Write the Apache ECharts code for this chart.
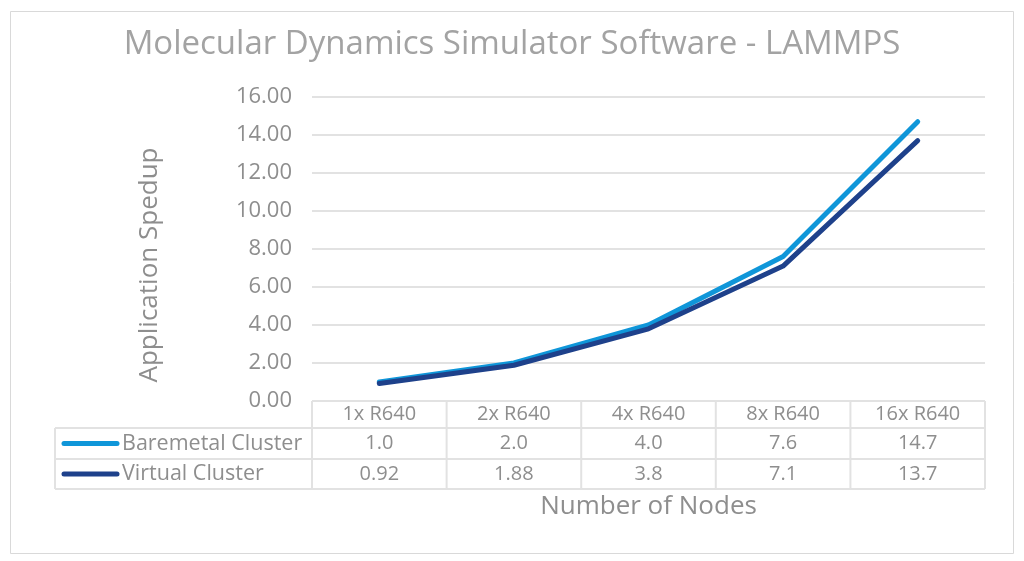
<!DOCTYPE html>
<html><head><meta charset="utf-8">
<script src="https://cdn.jsdelivr.net/npm/echarts@6/dist/echarts.min.js"></script>
<style>html,body{margin:0;padding:0;background:#fff}#c{width:1024px;height:561px}</style>
</head><body><div id="c"></div>
<script>
const categories = ['1x R640', '2x R640', '4x R640', '8x R640', '16x R640'];
const seriesNames = ['Baremetal Cluster', 'Virtual Cluster'];
const baremetal = [1.0, 2.0, 4.0, 7.6, 14.7];
const virtualCluster = [0.92, 1.88, 3.8, 7.1, 13.7];
const baremetalLabels = ['1.0', '2.0', '4.0', '7.6', '14.7'];
const virtualLabels = ['0.92', '1.88', '3.8', '7.1', '13.7'];
const seriesColors = ['#0f96d9', '#1e418b'];
const yMin = 0, yMax = 16, yInterval = 2;

const FONT = 'Open Sans';
const GRAY = '#8e8e8e';
const LINE = '#e2e2e2';

const chart = echarts.init(document.getElementById('c'), null, {renderer: 'canvas'});
chart.setOption({
  animation: false,
  backgroundColor: '#fff',
  textStyle: {fontFamily: FONT},
  title: {
    text: 'Molecular Dynamics Simulator Software - LAMMPS',
    left: 'center', top: 23,
    textStyle: {fontFamily: FONT, fontSize: 33, fontWeight: 'normal', color: '#a3a3a3'}
  },
  grid: {left: 312, right: 39, top: 97, bottom: 160, containLabel: false},
  xAxis: {
    type: 'category', data: categories, boundaryGap: true,
    axisLine: {show: false}, axisTick: {show: false}, axisLabel: {show: false}
  },
  yAxis: {
    type: 'value', min: yMin, max: yMax, interval: yInterval,
    axisLine: {show: false}, axisTick: {show: false},
    axisLabel: {formatter: v => v.toFixed(2), fontFamily: FONT, fontSize: 22, color: GRAY, margin: 20},
    splitLine: {lineStyle: {color: LINE, width: 2}}
  },
  series: [
    {name: seriesNames[1], type: 'line', data: virtualCluster, symbol: 'none',
     lineStyle: {color: seriesColors[1], width: 5, cap: 'round', join: 'round'}, z: 3},
    {name: seriesNames[0], type: 'line', data: baremetal, symbol: 'none',
     lineStyle: {color: seriesColors[0], width: 5, cap: 'round', join: 'round'}, z: 2}
  ]
});

function buildTable() {
  const g = [];
  const x0 = chart.convertToPixel({xAxisIndex: 0}, categories[0]);
  const x1 = chart.convertToPixel({xAxisIndex: 0}, categories[1]);
  const step = x1 - x0;
  const left = x0 - step / 2;
  const right = left + step * categories.length;
  const yTop = chart.convertToPixel({yAxisIndex: 0}, 0);
  const tableLeft = 55;
  const r1 = yTop + 27, r2 = yTop + 58, r3 = yTop + 88;
  const ls = {stroke: LINE, lineWidth: 2};
  g.push({type: 'line', shape: {x1: left, y1: yTop, x2: right, y2: yTop}, style: ls});
  [r1, r2, r3].forEach(y => g.push({type: 'line', shape: {x1: tableLeft, y1: y, x2: right, y2: y}, style: ls}));
  for (let i = 0; i <= categories.length; i++) {
    const x = left + step * i;
    g.push({type: 'line', shape: {x1: x, y1: yTop, x2: x, y2: r3}, style: ls});
  }
  g.push({type: 'line', shape: {x1: tableLeft, y1: r1, x2: tableLeft, y2: r3}, style: ls});
  const ts = (t, x, y, align, size) => ({type: 'text', x: x, y: y,
    style: {text: t, fill: GRAY, font: (size || 20) + 'px "' + FONT + '"', textAlign: align || 'center', textVerticalAlign: 'middle'}});
  categories.forEach((c, i) => {
    const cx = chart.convertToPixel({xAxisIndex: 0}, c);
    g.push(ts(c, cx, (yTop + r1) / 2));
    g.push(ts(baremetalLabels[i], cx, (r1 + r2) / 2));
    g.push(ts(virtualLabels[i], cx, (r2 + r3) / 2));
  });
  [[r1, r2], [r2, r3]].forEach((rr, k) => {
    const cy = (rr[0] + rr[1]) / 2;
    g.push({type: 'line', shape: {x1: 64, y1: cy, x2: 117, y2: cy},
      style: {stroke: seriesColors[k], lineWidth: 5, lineCap: 'round'}});
    g.push(ts(seriesNames[k], 122, cy, 'left', 21.5));
  });
  g.push({type: 'text', x: (left + right) / 2, y: 507,
    style: {text: 'Number of Nodes', fill: GRAY, font: '26px "' + FONT + '"', textAlign: 'center', textVerticalAlign: 'middle'}});
  g.push({type: 'text', x: 150, y: 265, rotation: Math.PI / 2,
    style: {text: 'Application Spedup', fill: GRAY, font: '26px "' + FONT + '"', textAlign: 'center', textVerticalAlign: 'middle'}});
  g.push({type: 'rect', shape: {x: 10.5, y: 11.5, width: 1003, height: 542},
    style: {fill: 'none', stroke: '#d9d9d9', lineWidth: 1}, z: -1});
  chart.setOption({graphic: g});
}
buildTable();
</script></body></html>
